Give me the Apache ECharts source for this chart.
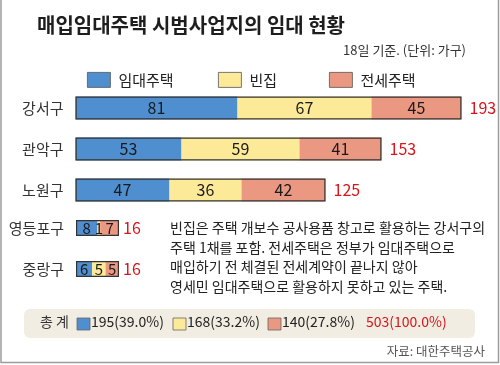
<!DOCTYPE html>
<html><head><meta charset="utf-8">
<script src="https://cdn.jsdelivr.net/npm/echarts@6/dist/echarts.min.js"></script>
<style>html,body{margin:0;padding:0;background:#fff}#c{width:500px;height:365px}</style>
</head><body><div id="c"></div>
<script>
// ---- data ----
const seriesNames = ['임대주택', '빈집', '전세주택'];
const bigCats = ['강서구', '관악구', '노원구'];
const bigRental = [81, 53, 47];
const bigVacant = [67, 59, 36];
const bigJeonse = [45, 41, 42];
const bigTotals = [193, 153, 125];
const smallCats = ['영등포구', '중랑구'];
const smallRental = [8, 6];
const smallVacant = [1, 5];
const smallJeonse = [7, 5];
const smallTotals = [16, 16];
const sumValues = [195, 168, 140];
const sumPercents = ['39.0', '33.2', '27.8'];
const grandTotal = 503;
const grandPercent = '100.0';
const titleText = '매입임대주택 시범사업지의 임대 현황';
const unitText = '18일 기준. (단위: 가구)';
const noteLines = [
  '빈집은 주택 개보수 공사용품 창고로 활용하는 강서구의',
  '주택 1채를 포함. 전세주택은 정부가 임대주택으로',
  '매입하기 전 체결된 전세계약이 끝나지 않아',
  '영세민 임대주택으로 활용하지 못하고 있는 주택.'
];
const sourceText = '자료: 대한주택공사';

// ---- style ----
const FONT = '"Noto Sans CJK KR", "Noto Sans", sans-serif';
const colors = ['#4f8fd0', '#fcea98', '#eb9883'];
const RED = '#d8141c';

const chart = echarts.init(document.getElementById('c'), null, {renderer: 'canvas'});

function segSeries(name, data, idx, bw, xi, fs) {
  return {
    type: 'bar', name: name, stack: 's' + xi, xAxisIndex: xi, yAxisIndex: xi,
    data: data, barWidth: bw, barGap: '-100%',
    itemStyle: {color: colors[idx]},
    label: {show: true, position: 'inside', color: '#1a1a1a', fontSize: fs, fontFamily: FONT},
    silent: true
  };
}
function outlineSeries(data, bw, xi, dist) {
  return {
    type: 'bar', name: 'total' + xi, xAxisIndex: xi, yAxisIndex: xi,
    data: data, barWidth: bw, barGap: '-100%', z: 5,
    itemStyle: {color: 'rgba(0,0,0,0)', borderColor: '#333', borderWidth: 1.2},
    label: {show: true, position: 'right', distance: dist, color: RED, fontSize: 16, fontFamily: FONT},
    silent: true
  };
}

const catLabel = {color: '#333', fontSize: 15, fontFamily: FONT, margin: 12};

const graphics = [];
// frame
graphics.push({type: 'polyline', shape: {points: [[1, 0], [1, 362.5], [498.5, 362.5], [498.5, 0]]},
  style: {stroke: '#9c9c9c', fill: null, lineWidth: 1.5}, silent: true});
graphics.push({type: 'text', right: 34, top: 44, style: {text: unitText, fill: '#333', font: '13px ' + FONT}});
// note
graphics.push({type: 'text', left: 170, top: 218, style: {text: noteLines.join('\n'), fill: '#222', font: '14px ' + FONT, lineHeight: 19.5}});
// summary box
graphics.push({type: 'rect', shape: {x: 24, y: 309, width: 451, height: 29, r: 6}, style: {fill: '#f2ede2'}});
graphics.push({type: 'text', left: 40, top: 315, style: {text: '총 계', fill: '#333', font: '14px ' + FONT}});
const sqX = [77, 173, 268];
sumValues.forEach((v, i) => {
  graphics.push({type: 'rect', shape: {x: sqX[i], y: 318, width: 13, height: 12}, style: {fill: colors[i], stroke: '#666', lineWidth: 0.8}});
  graphics.push({type: 'text', left: sqX[i] + 14, top: 315, style: {text: v + '(' + sumPercents[i] + '%)', fill: '#222', font: '14px ' + FONT}});
});
graphics.push({type: 'text', left: 366, top: 315, style: {text: grandTotal + '(' + grandPercent + '%)', fill: RED, font: '14px ' + FONT}});
graphics.push({type: 'text', right: 15, top: 345, style: {text: sourceText, fill: '#555', font: '12.5px ' + FONT}});

const legendCommon = {top: 67, itemWidth: 23, itemHeight: 15, itemGap: 8, icon: 'rect',
  textStyle: {color: '#222', fontSize: 15, fontFamily: FONT, padding: [0, 0, 0, 3]},
  itemStyle: {borderColor: '#555', borderWidth: 0.8}, selectedMode: false};

chart.setOption({
  backgroundColor: '#fff',
  animation: false,
  title: {text: titleText, left: 32, top: 10,
    textStyle: {fontSize: 20, fontWeight: 'bold', color: '#1e1e1e', fontFamily: FONT}},
  legend: [
    Object.assign({}, legendCommon, {left: 82, data: [seriesNames[0]]}),
    Object.assign({}, legendCommon, {left: 213, data: [seriesNames[1]]}),
    Object.assign({}, legendCommon, {left: 324, data: [seriesNames[2]]})
  ],
  grid: [
    {left: 75.5, top: 87.5, width: 400, height: 123, containLabel: false},
    {left: 76, top: 207.5, width: 53.75, height: 82, containLabel: false}
  ],
  xAxis: [
    {type: 'value', gridIndex: 0, min: 0, max: 200, show: false},
    {type: 'value', gridIndex: 1, min: 0, max: 20, show: false}
  ],
  yAxis: [
    {type: 'category', gridIndex: 0, data: bigCats, inverse: true, axisLine: {show: false}, axisTick: {show: false}, axisLabel: catLabel},
    {type: 'category', gridIndex: 1, data: smallCats, inverse: true, axisLine: {show: false}, axisTick: {show: false}, axisLabel: catLabel}
  ],
  series: [
    segSeries(seriesNames[0], bigRental, 0, 23, 0, 16),
    segSeries(seriesNames[1], bigVacant, 1, 23, 0, 16),
    segSeries(seriesNames[2], bigJeonse, 2, 23, 0, 16),
    outlineSeries(bigTotals, 23, 0, 8),
    segSeries(seriesNames[0], smallRental, 0, 16, 1, 15),
    segSeries(seriesNames[1], smallVacant, 1, 16, 1, 15),
    segSeries(seriesNames[2], smallJeonse, 2, 16, 1, 15),
    outlineSeries(smallTotals, 16, 1, 4)
  ],
  graphic: graphics
});
</script></body></html>
